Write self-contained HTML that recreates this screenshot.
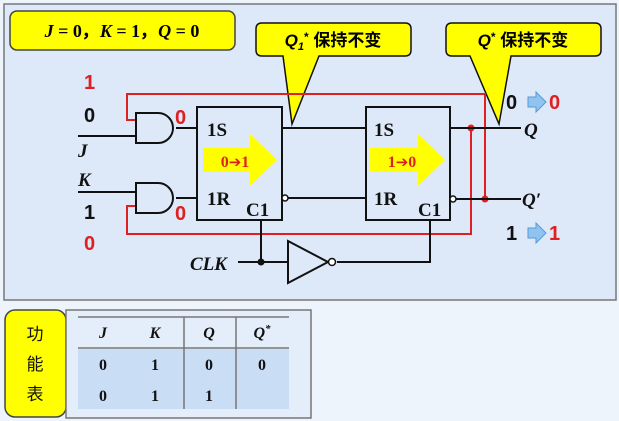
<!DOCTYPE html>
<html><head><meta charset="utf-8"><style>
body{margin:0;background:#eef4fc;}
svg{display:block}
.b{font-family:"Liberation Serif",serif;font-weight:bold}
.s{font-family:"Liberation Sans","Noto Sans CJK SC",sans-serif;font-weight:bold}
</style></head><body>
<svg width="619" height="421" viewBox="0 0 619 421" xmlns="http://www.w3.org/2000/svg">
<rect x="0" y="0" width="619" height="421" fill="#eef4fc"/>
<rect x="4" y="4" width="612" height="296" fill="#dde8f8" stroke="#777" stroke-width="1.5"/>
<rect x="10" y="11" width="225" height="39" rx="7" fill="#ffff00" stroke="#444" stroke-width="1.5"/>
<text x="122" y="37" text-anchor="middle" class="b" font-size="18"><tspan font-style="italic">J</tspan> = 0，<tspan font-style="italic">K</tspan> = 1，<tspan font-style="italic">Q</tspan> = 0</text>
<path d="M262,23 H405 Q411,23 411,29 V50 Q411,56 405,56 H319 L292,124 L283,56 H262 Q256,56 256,50 V29 Q256,23 262,23 Z" fill="#ffff00" stroke="#111" stroke-width="1.5"/>
<text x="333" y="46" text-anchor="middle" class="s" font-size="17"><tspan font-style="italic">Q</tspan><tspan font-size="11" dy="4" font-style="italic">1</tspan><tspan dy="-9" font-size="12">*</tspan><tspan dy="5"> 保持不变</tspan></text>
<path d="M452,23 H595 Q601,23 601,29 V50 Q601,56 595,56 H511 L499,124 L470,56 H452 Q446,56 446,50 V29 Q446,23 452,23 Z" fill="#ffff00" stroke="#111" stroke-width="1.5"/>
<text x="523" y="46" text-anchor="middle" class="s" font-size="17"><tspan font-style="italic">Q</tspan><tspan font-size="12" dy="-5">*</tspan><tspan dy="5"> 保持不变</tspan></text>
<g stroke="#e02020" stroke-width="2" fill="none">
<path d="M136,120 H127 V94 H485 V199"/>
<path d="M136,206 H127 V234 H471 V128"/>
</g>
<circle cx="485" cy="199" r="3.5" fill="#e02020"/>
<circle cx="471" cy="128" r="3.5" fill="#e02020"/>
<g stroke="#111" stroke-width="2" fill="none">
<path d="M78,136 H136"/>
<path d="M78,192 H136"/>
<path d="M176,128 H197"/>
<path d="M176,198 H197"/>
<path d="M282,128 H366"/>
<path d="M287,198 H366"/>
<path d="M450,128 H521"/>
<path d="M455,199 H521"/>
<path d="M238,262 H288"/>
<path d="M261,220 V262"/>
<path d="M337,262 H430 V220"/>
<path d="M136,113 H158 A15,15 0 0 1 158,143 H136 Z" fill="#dde8f8"/>
<path d="M136,183 H158 A15,15 0 0 1 158,213 H136 Z" fill="#dde8f8"/>
<path d="M288,241 L328,262 L288,283 Z" fill="#dde8f8"/>
</g>
<circle cx="332" cy="262" r="3.5" fill="#fff" stroke="#111" stroke-width="1.5"/>
<circle cx="261" cy="262" r="3.5" fill="#111"/>
<rect x="197" y="107" width="85" height="113" fill="#dde8f8" stroke="#111" stroke-width="2"/>
<rect x="366" y="107" width="84" height="113" fill="#dde8f8" stroke="#111" stroke-width="2"/>
<circle cx="285" cy="198" r="3" fill="#fff" stroke="#111" stroke-width="1.5"/>
<circle cx="453" cy="199" r="3" fill="#fff" stroke="#111" stroke-width="1.5"/>
<path d="M203,148 H250 V134 L277,160 L250,186 V172 H203 Z" fill="#ffff00"/>
<path d="M370,148 H418 V134 L445,160 L418,186 V172 H370 Z" fill="#ffff00"/>
<text x="235" y="167" text-anchor="middle" class="b" font-size="16" fill="#e02020">0<tspan font-family="'DejaVu Sans',sans-serif" font-size="15">➔</tspan>1</text>
<text x="402" y="167" text-anchor="middle" class="b" font-size="16" fill="#e02020">1<tspan font-family="'DejaVu Sans',sans-serif" font-size="15">➔</tspan>0</text>
<g class="b" font-size="19" fill="#111">
<text x="207" y="136">1S</text>
<text x="207" y="205">1R</text>
<text x="246" y="216">C1</text>
<text x="374" y="136">1S</text>
<text x="374" y="205">1R</text>
<text x="418" y="216">C1</text>
<text x="190" y="270" font-style="italic">CLK</text>
<text x="78" y="157" font-style="italic">J</text>
<text x="78" y="186" font-style="italic">K</text>
<text x="524" y="136" font-style="italic">Q</text>
<text x="522" y="206" font-style="italic">Q′</text>
</g>
<g class="s" font-size="20">
<text x="84" y="89" fill="#e02020">1</text>
<text x="84" y="122" fill="#111">0</text>
<text x="84" y="219" fill="#111">1</text>
<text x="84" y="250" fill="#e02020">0</text>
<text x="175" y="124" fill="#e02020">0</text>
<text x="175" y="220" fill="#e02020">0</text>
<text x="506" y="109" fill="#111">0</text>
<text x="549" y="109" fill="#e02020">0</text>
<text x="506" y="240" fill="#111">1</text>
<text x="549" y="240" fill="#e02020">1</text>
</g>
<path d="M528,97 H536 V92 L546,102 L536,112 V107 H528 Z" fill="#8fc4f0" stroke="#5a9ad8"/>
<path d="M528,228 H536 V223 L546,233 L536,243 V238 H528 Z" fill="#8fc4f0" stroke="#5a9ad8"/>
<rect x="5" y="310" width="61" height="107" rx="10" fill="#ffff00" stroke="#444" stroke-width="1.5"/>
<g font-family="'Noto Sans CJK SC',sans-serif" font-size="17" text-anchor="middle" fill="#111">
<text x="35" y="340">功</text><text x="35" y="370">能</text><text x="35" y="400">表</text>
</g>
<rect x="66" y="310" width="245" height="108" fill="#e4eefa" stroke="#777" stroke-width="1.5"/>
<rect x="78" y="349" width="211" height="60" fill="#c9ddf5"/>
<g stroke="#777" stroke-width="1.5">
<line x1="78" y1="317" x2="289" y2="317"/>
<line x1="78" y1="348" x2="289" y2="348"/>
<line x1="184" y1="317" x2="184" y2="409"/>
<line x1="236" y1="317" x2="236" y2="409"/>
</g>
<g class="b" font-size="16" text-anchor="middle" fill="#111">
<text x="103" y="338" font-style="italic">J</text>
<text x="155" y="338" font-style="italic">K</text>
<text x="209" y="338" font-style="italic">Q</text>
<text x="262" y="338" font-style="italic">Q<tspan font-size="11" dy="-6">*</tspan></text>
<text x="103" y="370">0</text><text x="155" y="370">1</text><text x="209" y="370">0</text><text x="262" y="370">0</text>
<text x="103" y="401">0</text><text x="155" y="401">1</text><text x="209" y="401">1</text>
</g>
</svg>
</body></html>
